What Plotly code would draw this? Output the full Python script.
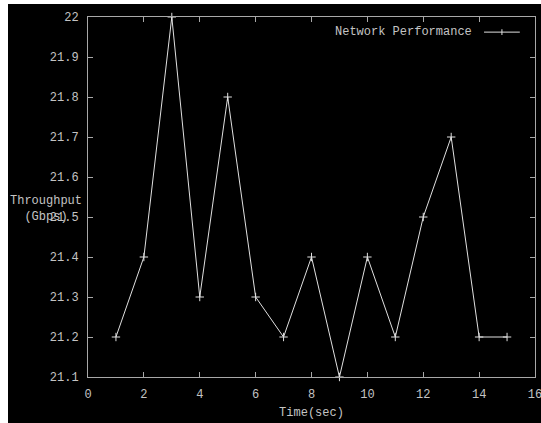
import plotly.graph_objects as go

time_sec = [1, 2, 3, 4, 5, 6, 7, 8, 9, 10, 11, 12, 13, 14, 15]
throughput = [21.2, 21.4, 22.0, 21.3, 21.8, 21.3, 21.2, 21.4, 21.1, 21.4, 21.2, 21.5, 21.7, 21.2, 21.2]
x_ticks = [0, 2, 4, 6, 8, 10, 12, 14, 16]
y_ticks = [21.1, 21.2, 21.3, 21.4, 21.5, 21.6, 21.7, 21.8, 21.9, 22]
series_name = "Network Performance"

FG = "#e0e0e0"
AX = "#a8a8a8"
FONT = dict(family="Liberation Mono, DejaVu Sans Mono, monospace", size=12, color="#c4c4c4")

fig = go.Figure()
fig.add_trace(go.Scatter(
    x=time_sec, y=throughput, mode="lines+markers", name=series_name,
    line=dict(color=FG, width=1),
    marker=dict(symbol="cross-thin", size=6, line=dict(color=FG, width=1)),
    showlegend=False, cliponaxis=False, hoverinfo="skip",
))

axis_common = dict(
    showgrid=False, zeroline=False, showline=True, linecolor=AX, linewidth=1,
    mirror="allticks", ticks="inside", ticklen=5, tickcolor=AX, tickwidth=1,
    tickfont=FONT, ticklabeloverflow="allow", automargin=False,
)
fig.update_xaxes(range=[0, 16], tickvals=x_ticks, ticktext=[str(v) for v in x_ticks],
                 ticklabelstandoff=6,
                 title=dict(text="Time(sec)", font=FONT, standoff=6), **axis_common)
fig.update_yaxes(range=[21.1, 22], tickvals=y_ticks,
                 ticktext=[("%g" % v) for v in y_ticks], ticklabelstandoff=6, **axis_common)

# black page background panel (white strip on top/left like the reference)
fig.add_shape(type="rect", xref="paper", yref="paper", x0=-80 / 447, x1=1.1, y0=-0.2, y1=1 + 13 / 360,
              fillcolor="black", line=dict(width=0), layer="below")
# y axis title (horizontal, gnuplot style)
fig.add_annotation(xref="paper", yref="paper", x=-0.008, y=0.468, xanchor="right", yanchor="middle",
                   text="Throughput<br>(Gbps)", showarrow=False, font=FONT, align="center")
# legend text + sample
fig.add_annotation(xref="paper", yref="paper", x=0.864, y=0.958, xanchor="right", yanchor="middle",
                   text=series_name, showarrow=False, font=FONT)
fig.add_shape(type="line", xref="paper", yref="paper", x0=0.886, x1=0.966, y0=0.958, y1=0.958,
              line=dict(color=FG, width=1))
fig.add_shape(type="line", xref="paper", yref="paper", x0=0.926, x1=0.926, y0=0.95, y1=0.966,
              line=dict(color=FG, width=1))

fig.update_layout(
    width=541, height=423,
    margin=dict(l=88, r=6, t=17, b=46, autoexpand=False),
    paper_bgcolor="white", plot_bgcolor="black",
    font=FONT, hovermode=False,
)
fig.write_html("out.html", config={"displayModeBar": False},
               post_script="document.body.style.margin='0';")
